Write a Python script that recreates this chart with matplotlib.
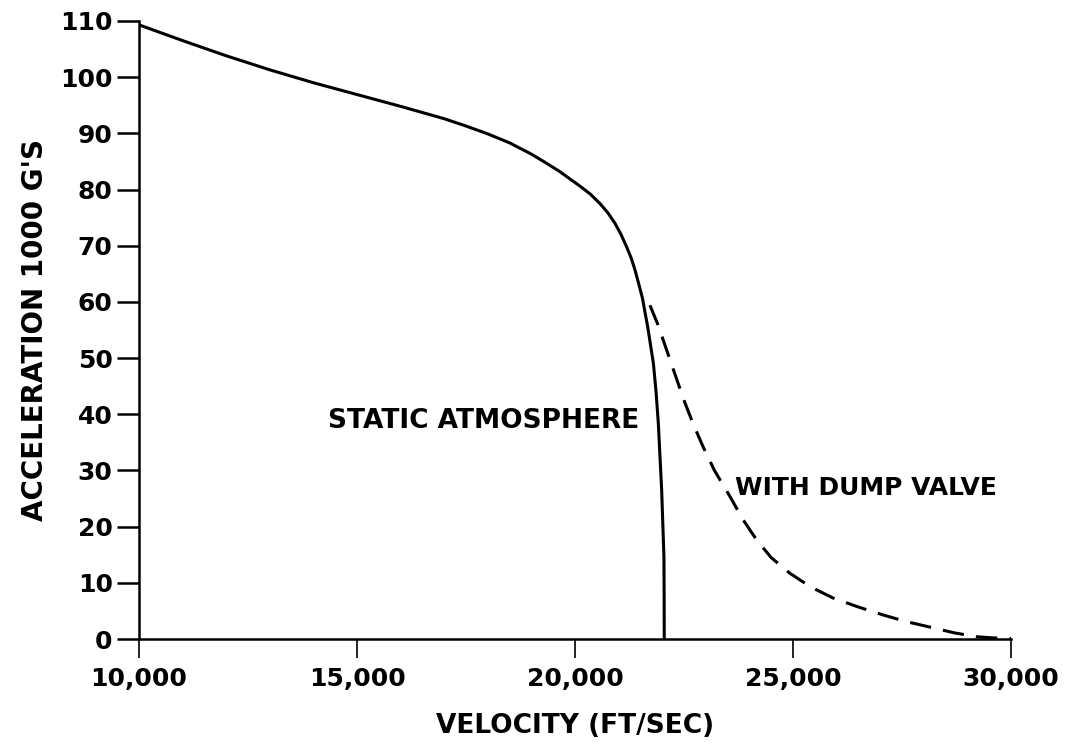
import matplotlib.pyplot as plt
import numpy as np

plt.rcParams['font.family'] = 'DejaVu Sans'

# static atmosphere curve (velocity ft/sec, acceleration 1000 g's)
static_v = [10000, 11000, 12000, 13000, 14000, 15000, 16000, 17000, 17500,
            18000, 18500, 19000, 19300, 19650, 19900, 20115, 20350, 20573,
            20750, 20917, 21050, 21185, 21290, 21376, 21460, 21550, 21610,
            21670, 21740, 21800, 21860, 21912, 21950, 21989, 22015, 22041,
            22046, 22048]
static_a = [109.3, 106.5, 103.8, 101.3, 99.0, 96.9, 94.8, 92.6, 91.3,
            89.9, 88.3, 86.3, 84.9, 83.2, 81.8, 80.6, 79.2, 77.5,
            75.9, 74.0, 72.1, 69.8, 67.8, 65.7, 63.3, 60.6, 58.0,
            55.5, 52.0, 49.0, 44.0, 38.4, 32.5, 26.5, 20.5, 14.6,
            7.0, 0.0]

# with dump valve curve
dump_v = [21720, 21900, 22100, 22300, 22500, 22700, 22940, 23200, 23560,
          23850, 24170, 24500, 24930, 25400, 25920, 26500, 27060, 27600,
          28210, 28700, 29220, 29600, 30000]
dump_a = [59.4, 56.0, 51.5, 47.0, 42.5, 38.5, 34.2, 30.0, 25.3,
          21.3, 17.6, 14.5, 11.7, 9.3, 7.3, 5.7, 4.3, 3.1,
          2.0, 1.1, 0.4, 0.2, 0.1]

x_ticks = [10000, 15000, 20000, 25000, 30000]
x_ticklabels = ['10,000', '15,000', '20,000', '25,000', '30,000']
y_ticks = list(range(0, 111, 10))

fig = plt.figure(figsize=(10.72, 7.48), dpi=100)
ax = fig.add_axes([0.1297, 0.1457, 0.8133, 0.8263])

ax.plot(static_v, static_a, color='black', linewidth=2.2, solid_joinstyle='round')
ax.plot(dump_v, dump_a, color='black', linewidth=2.2, linestyle=(0, (7, 4)))

ax.set_xlim(10000, 30000)
ax.set_ylim(0, 110)
ax.set_xticks(x_ticks)
ax.set_xticklabels(x_ticklabels)
ax.set_yticks(y_ticks)

for side in ['top', 'right']:
    ax.spines[side].set_visible(False)
for side in ['left', 'bottom']:
    ax.spines[side].set_linewidth(1.8)

ax.tick_params(axis='x', direction='out', length=14, width=1.2, pad=6, labelsize=18)
ax.tick_params(axis='y', direction='out', length=16, width=1.8, pad=3, labelsize=18)
for lab in ax.get_xticklabels() + ax.get_yticklabels():
    lab.set_fontweight('bold')

ax.set_xlabel('VELOCITY (FT/SEC)', fontsize=19, fontweight='bold', labelpad=16)
ax.set_ylabel("ACCELERATION 1000 G'S", fontsize=20, fontweight='bold', labelpad=8)

ax.text(14330, 38.8, 'STATIC ATMOSPHERE', fontsize=19, fontweight='bold',
        ha='left', va='center')
ax.text(23670, 26.9, 'WITH DUMP VALVE', fontsize=18, fontweight='bold',
        ha='left', va='center')

plt.savefig('out.png', dpi=100, facecolor='white')
plt.close()
